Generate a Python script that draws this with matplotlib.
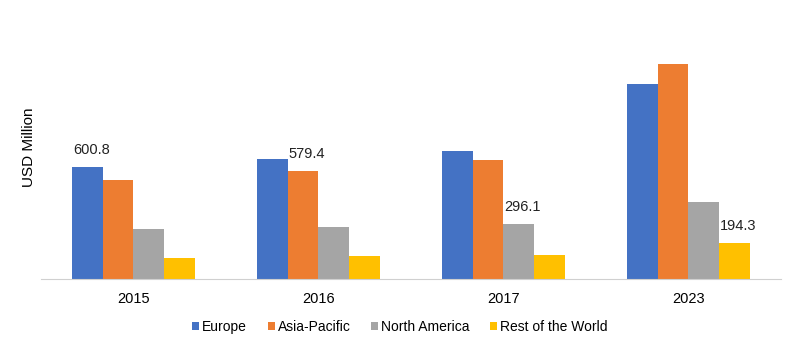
import numpy as np
import matplotlib.pyplot as plt

plt.rcParams['font.family'] = ['Liberation Sans', 'DejaVu Sans']

years = ['2015', '2016', '2017', '2023']
series = ['Europe', 'Asia-Pacific', 'North America', 'Rest of the World']
europe = [600.8, 640, 683, 1042]
asia_pacific = [529, 579.4, 635, 1150]
north_america = [268, 282, 296.1, 415]
rest_of_world = [116, 125, 130, 194.3]
colors = ['#4472C4', '#ED7D31', '#A5A5A5', '#FFC000']
# which (series, year) bars carry a value label
labelled = [(0, 0), (1, 1), (2, 2), (3, 3)]

values = [europe, asia_pacific, north_america, rest_of_world]

fig = plt.figure(figsize=(8, 3.52), dpi=100)
ax = fig.add_axes([0.051, 0.2065, 0.925, 0.665])

x = np.arange(len(years))
w = 0.166
for i, (name, vals) in enumerate(zip(series, values)):
    pos = x + (i - 1.5) * w
    ax.bar(pos, vals, width=w, color=colors[i], label=name)
    for s, g in labelled:
        if s == i:
            ax.annotate(f'{vals[g]:.1f}', (pos[g], vals[g]), xytext=(3, 9),
                        textcoords='offset points', ha='center', va='baseline',
                        fontsize=10.5, color='#222222')

ax.set_xlim(-0.5, 3.5)
ax.set_ylim(0, 1250)
ax.set_xticks(x)
ax.set_xticklabels(years, fontsize=10.5)
ax.tick_params(axis='x', length=0, pad=9)
ax.set_yticks([])
for side in ['top', 'right', 'left']:
    ax.spines[side].set_visible(False)
ax.spines['bottom'].set_color('#D0D0D0')
ax.set_ylabel('USD Million', fontsize=11)
ax.yaxis.set_label_coords(-0.007, 0.565)

fig.legend(loc='center', bbox_to_anchor=(0.5, 0.07), ncol=4, frameon=False,
           fontsize=10, handlelength=0.5, handleheight=0.5, handletextpad=0.2,
           columnspacing=1.5)

fig.savefig('out.png', dpi=100)
